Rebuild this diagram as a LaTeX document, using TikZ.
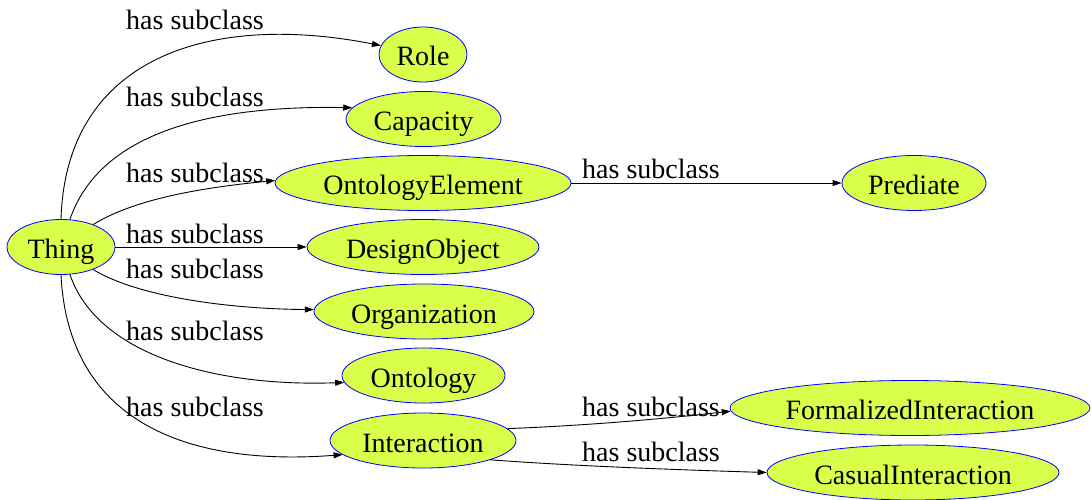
\documentclass[tikz,border=0pt]{standalone}
\usepackage{fontspec}
\setmainfont{Liberation Serif}
\usetikzlibrary{shapes.geometric,arrows.meta}
\definecolor{nodefill}{RGB}{218,255,74}
\begin{document}
\begin{tikzpicture}[x=1pt,y=-1pt,
 cls/.style={ellipse,draw=blue,fill=nodefill,line width=0.8pt,inner sep=0pt,minimum height=55pt,text height=23pt,text depth=0pt,font=\fontsize{28}{30}\selectfont},
 edge/.style={line width=0.9pt,-{Triangle[length=9pt,width=6pt]}},
 lbl/.style={font=\fontsize{28}{30}\selectfont,inner sep=0pt}]
\useasboundingbox (0,0) rectangle (1092,500);
\node[cls,minimum width=108pt] (thing) at (61,247) {Thing};
\node[cls,minimum width=88pt] (role) at (423,54.5) {Role};
\node[cls,minimum width=155pt] (capacity) at (423.5,119) {Capacity};
\node[cls,minimum width=296pt] (oe) at (423,183) {OntologyElement};
\node[cls,minimum width=232pt] (do) at (423,247) {DesignObject};
\node[cls,minimum width=220pt] (org) at (424,311.5) {Organization};
\node[cls,minimum width=163pt] (ontology) at (423.5,375.5) {Ontology};
\node[cls,minimum width=186pt] (interaction) at (423,440.5) {Interaction};
\node[cls,minimum width=144pt] (prediate) at (914,183) {Prediate};
\node[cls,minimum width=360pt] (fi) at (910,408) {FormalizedInteraction};
\node[cls,minimum width=292pt] (ci) at (913,472.5) {CasualInteraction};

\draw[edge] (thing.90) .. controls (66,57) and (210,12) .. (role.168);
\draw[edge] (thing.72) .. controls (98,137) and (200,105) .. (capacity.171);
\draw[edge] (thing.35) .. controls (138,197) and (210,187) .. (oe.179);
\draw[edge] (thing) -- (do);
\draw[edge] (thing.-35) .. controls (138,297) and (230,309) .. (org.179);
\draw[edge] (thing.-72) .. controls (98,357) and (220,387) .. (ontology.185);
\draw[edge] (thing.-90) .. controls (68,417) and (180,467) .. (interaction.190);
\draw[edge] (oe) -- (prediate);
\draw[edge] (interaction.8) .. controls (600,425) and (680,417) .. (fi.181);
\draw[edge] (interaction.-16) .. controls (560,465) and (650,469) .. (ci.west);

\node[lbl] (l1) at (195,20) {has subclass};
\node[lbl] (l2) at (195,97) {has subclass};
\node[lbl] (l3) at (195,173) {has subclass};
\node[lbl] (l4) at (195,234) {has subclass};
\node[lbl] (l5) at (195,269) {has subclass};
\node[lbl] (l6) at (195,331) {has subclass};
\node[lbl] (l7) at (195,407) {has subclass};
\node[lbl] (l8) at (651,169) {has subclass};
\node[lbl] (l9) at (651,407) {has subclass};
\node[lbl] (l10) at (651,452) {has subclass};
\end{tikzpicture}
\end{document}
